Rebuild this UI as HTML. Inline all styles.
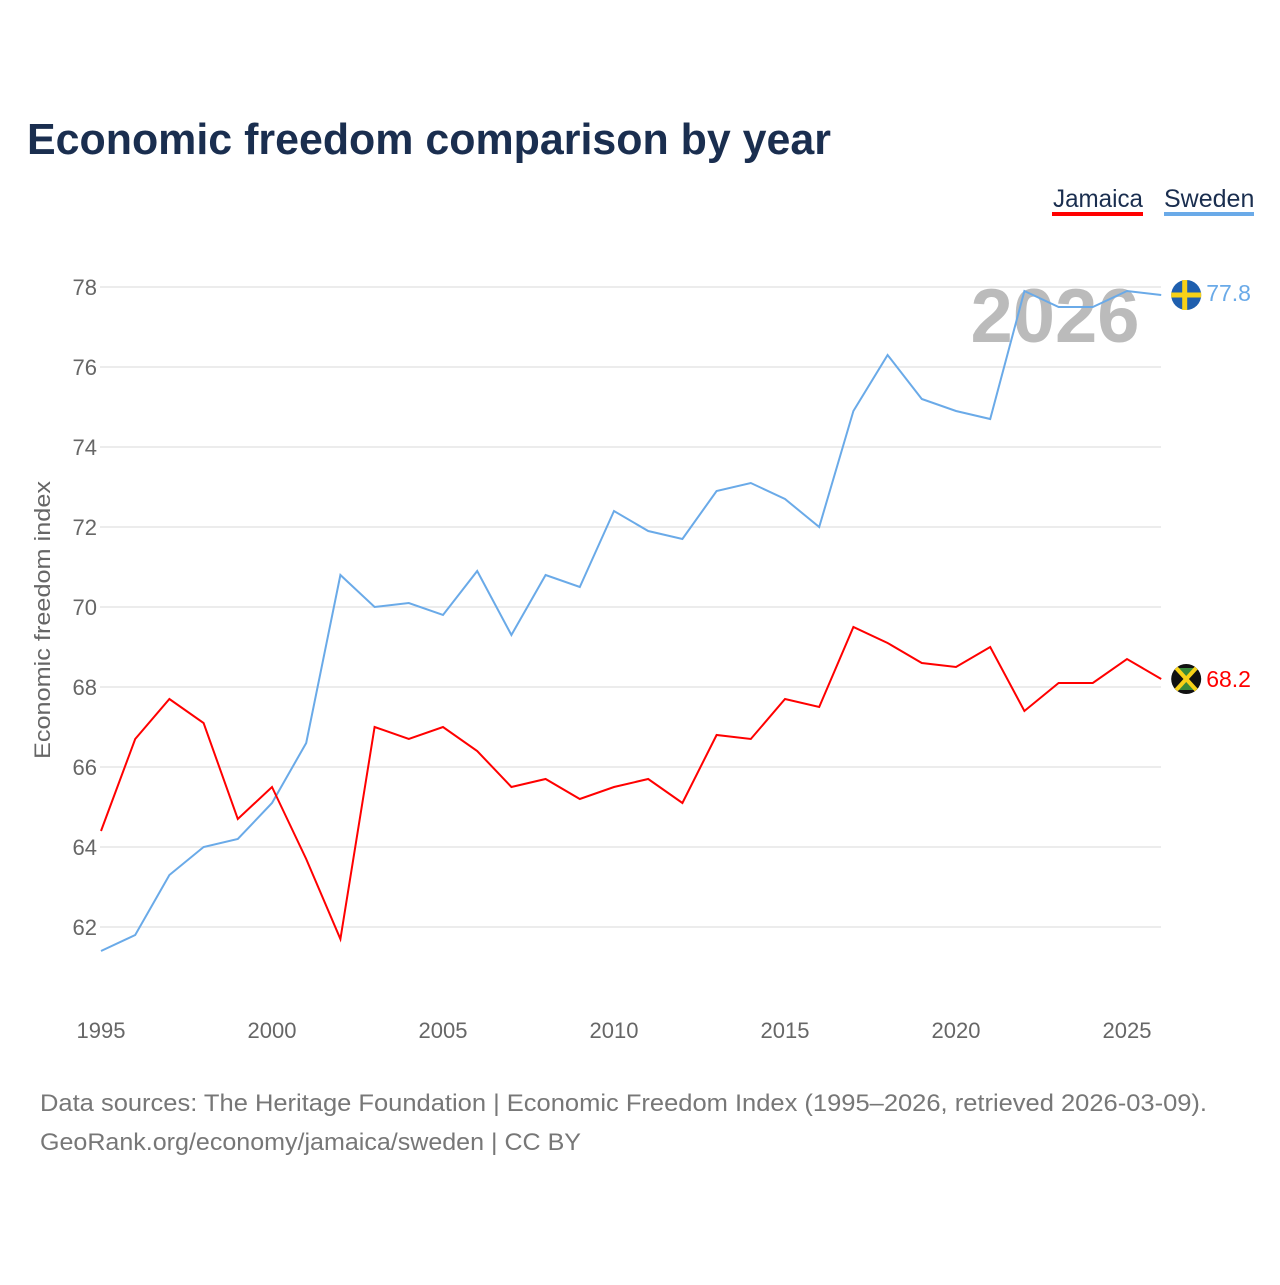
<!DOCTYPE html>
<html><head><meta charset="utf-8"><style>
body{margin:0;background:#fff;width:1280px;height:1280px;overflow:hidden;font-family:"Liberation Sans",sans-serif}
</style></head><body>
<svg id="c" width="1280" height="1280" font-family="Liberation Sans, sans-serif">
<text x="27" y="154" font-size="44" font-weight="bold" fill="#1a2e4f" textLength="804" lengthAdjust="spacingAndGlyphs">Economic freedom comparison by year</text>
<g>
<text x="1053" y="207" font-size="25" fill="#1a2e4f" textLength="90" lengthAdjust="spacingAndGlyphs">Jamaica</text>
<rect x="1052" y="212" width="91" height="4" fill="#ff0000"/>
<text x="1164" y="207" font-size="25" fill="#1a2e4f">Sweden</text>
<rect x="1164" y="212" width="90" height="4" fill="#6aaae8"/>
</g>
<text transform="translate(50,620) rotate(-90)" text-anchor="middle" font-size="22" fill="#666" textLength="278" lengthAdjust="spacingAndGlyphs">Economic freedom index</text>
<text x="1055" y="342" text-anchor="middle" font-size="76" font-weight="bold" fill="#bbb">2026</text>
<g id="grid"></g><g id="lines"></g><g id="marks"></g>
<text x="40" y="1111" font-size="24" fill="#777" textLength="1167" lengthAdjust="spacingAndGlyphs">Data sources: The Heritage Foundation | Economic Freedom Index (1995–2026, retrieved 2026-03-09).</text>
<text x="40" y="1150" font-size="24" fill="#777" textLength="541" lengthAdjust="spacingAndGlyphs">GeoRank.org/economy/jamaica/sweden | CC BY</text>
</svg>
<script>
const years=[1995,1996,1997,1998,1999,2000,2001,2002,2003,2004,2005,2006,2007,2008,2009,2010,2011,2012,2013,2014,2015,2016,2017,2018,2019,2020,2021,2022,2023,2024,2025,2026];
const sweden=[61.4,61.8,63.3,64.0,64.2,65.1,66.6,70.8,70.0,70.1,69.8,70.9,69.3,70.8,70.5,72.4,71.9,71.7,72.9,73.1,72.7,72.0,74.9,76.3,75.2,74.9,74.7,77.9,77.5,77.5,77.9,77.8];
const jamaica=[64.4,66.7,67.7,67.1,64.7,65.5,63.7,61.7,67.0,66.7,67.0,66.4,65.5,65.7,65.2,65.5,65.7,65.1,66.8,66.7,67.7,67.5,69.5,69.1,68.6,68.5,69.0,67.4,68.1,68.1,68.7,68.2];
const yTicks=[62,64,66,68,70,72,74,76,78];
const xTicks=[1995,2000,2005,2010,2015,2020,2025];
const X=y=>101+(y-1995)*34.2, Y=v=>287+(78-v)*40;
const NS="http://www.w3.org/2000/svg";
function mk(t,a,p){const e=document.createElementNS(NS,t);for(const k in a)e.setAttribute(k,a[k]);p.appendChild(e);return e;}
const g=document.getElementById('grid');
yTicks.forEach(v=>{
 const l=mk('line',{x1:100,x2:1161,y1:Y(v),y2:Y(v),stroke:'#e6e6e6','stroke-width':1.5},g);
 
 
 const t=mk('text',{x:97,y:Y(v)+8,'text-anchor':'end','font-size':22,fill:'#666'},g);t.textContent=v;
 
 
});
xTicks.forEach(v=>{
 const t=mk('text',{x:X(v),y:1038,'text-anchor':'middle','font-size':22,fill:'#666'},g);t.textContent=v;
 
 
});
const L=document.getElementById('lines');
function line(d,c,n){const p=mk('polyline',{points:d.map((v,i)=>X(years[i])+','+Y(v)).join(' '),fill:'none',stroke:c,'stroke-width':2},L);
 
 }
line(sweden,'#6aaae8','sweden-line');
line(jamaica,'#ff0000','jamaica-line');
const M=document.getElementById('marks');
const last=years.length-1;
let sx=X(years[last])+25, sy=Y(sweden[last]);
const sc=mk('circle',{cx:sx,cy:sy,r:15,fill:'#1f5fae'},M);


mk('rect',{x:sx-4,y:sy-15,width:5,height:30,fill:'#f7d117'},M);
mk('rect',{x:sx-15,y:sy-2.5,width:30,height:5,fill:'#f7d117'},M);
const st=mk('text',{x:sx+20,y:sy+6,'font-size':23,fill:'#6aaae8'},M);st.textContent=sweden[last];


let jx=sx, jy=Y(jamaica[last]);
const jc=mk('circle',{cx:jx,cy:jy,r:15,fill:'#111'},M);


mk('polygon',{points:`${jx-10},${jy-11} ${jx+10},${jy-11} ${jx},${jy}`,fill:'#3a8a3a'},M);
mk('polygon',{points:`${jx-10},${jy+11} ${jx+10},${jy+11} ${jx},${jy}`,fill:'#3a8a3a'},M);
mk('line',{x1:jx-10,y1:jy-11,x2:jx+10,y2:jy+11,stroke:'#f7d117','stroke-width':4},M);
mk('line',{x1:jx+10,y1:jy-11,x2:jx-10,y2:jy+11,stroke:'#f7d117','stroke-width':4},M);
const jt=mk('text',{x:jx+20,y:jy+8,'font-size':23,fill:'#ff0000'},M);jt.textContent=jamaica[last];


</script>
</body></html>
